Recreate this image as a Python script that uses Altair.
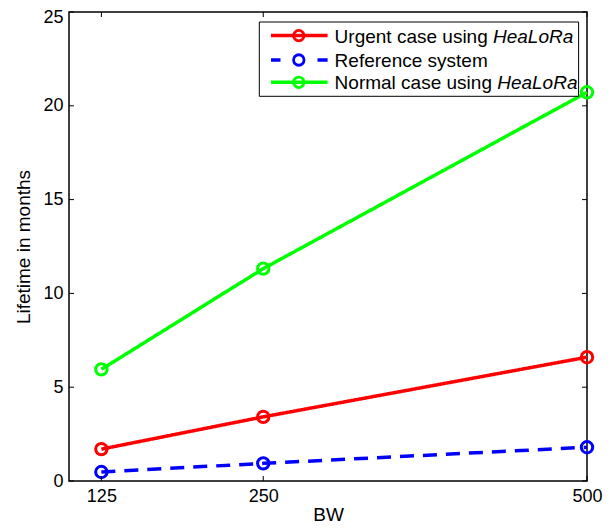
import altair as alt
import pandas as pd

# ---- data ----
bw = [125, 250, 500]
urgent = [1.7, 3.42, 6.6]
reference = [0.48, 0.94, 1.8]
normal = [5.95, 11.32, 20.72]
series_names = ["Urgent", "Reference", "Normal"]
series_colors = ["#ff0000", "#0000ff", "#00ff00"]
x_ticks = [125, 250, 500]
y_ticks = [0, 5, 10, 15, 20, 25]

legend_prefix = ["Urgent case using ", "Reference system", "Normal case using "]
legend_italic = ["HeaLoRa", "", "HeaLoRa"]

rows = []
for name, vals in zip(series_names, [urgent, reference, normal]):
    for b, v in zip(bw, vals):
        rows.append({"BW": b, "Lifetime": v, "Series": name})
df = pd.DataFrame(rows)

W, H = 518, 469
FONT = "Liberation Sans"

xscale = alt.Scale(domain=[100, 500], nice=False, zero=False)
yscale = alt.Scale(domain=[0, 25], nice=False)
cscale = alt.Scale(domain=series_names, range=series_colors)
dscale = alt.Scale(domain=series_names, range=[[1, 0], [14, 9], [1, 0]])

xaxis = alt.Axis(values=x_ticks, title="BW", labelPadding=6, titlePadding=0)
yaxis = alt.Axis(values=y_ticks, title="Lifetime in months", labelPadding=6,
                 titlePadding=9,
                 labelOffset={"condition": {"test": "datum.value == 25", "value": 5},
                              "value": 0})

base = alt.Chart(df)

lines = base.mark_line(strokeWidth=3.5).encode(
    x=alt.X("BW:Q", scale=xscale, axis=xaxis),
    y=alt.Y("Lifetime:Q", scale=yscale, axis=yaxis),
    color=alt.Color("Series:N", scale=cscale, legend=None),
    strokeDash=alt.StrokeDash("Series:N", scale=dscale, legend=None),
    detail="Series:N",
)

points = base.mark_point(filled=False, size=130, strokeWidth=3, opacity=1).encode(
    x=alt.X("BW:Q", scale=xscale, axis=xaxis),
    y=alt.Y("Lifetime:Q", scale=yscale, axis=yaxis),
    color=alt.Color("Series:N", scale=cscale, legend=None),
)

# inward ticks on all four sides
xt = pd.DataFrame({"BW": x_ticks})
yt = pd.DataFrame({"Lifetime": y_ticks})
TL = 5
tick_bottom = alt.Chart(xt).mark_rule(color="black", strokeWidth=1).encode(
    x=alt.X("BW:Q", scale=xscale, axis=xaxis), y=alt.value(H), y2=alt.value(H - TL))
tick_top = alt.Chart(xt).mark_rule(color="black", strokeWidth=1).encode(
    x=alt.X("BW:Q", scale=xscale, axis=xaxis), y=alt.value(0), y2=alt.value(TL))
tick_left = alt.Chart(yt).mark_rule(color="black", strokeWidth=1).encode(
    y=alt.Y("Lifetime:Q", scale=yscale, axis=yaxis), x=alt.value(0), x2=alt.value(TL))
tick_right = alt.Chart(yt).mark_rule(color="black", strokeWidth=1).encode(
    y=alt.Y("Lifetime:Q", scale=yscale, axis=yaxis), x=alt.value(W), x2=alt.value(W - TL))

# custom legend (to allow the italic HeaLoRa)
one = pd.DataFrame({"a": [0]})
lg = alt.Chart(one)
box = lg.mark_rect(fill="white", stroke="black", strokeWidth=1).encode(
    x=alt.value(190.3), x2=alt.value(509.6), y=alt.value(10), y2=alt.value(84.3))

legend_layers = [box]
row_y = [23.6, 48.0, 70.3]
italic_x = [424.0, None, 428.2]
for i in range(3):
    ry = row_y[i]
    col = series_colors[i]
    if series_names[i] == "Reference":
        segs = [(202.0, 211.5), (248.5, 258.6)]
    else:
        segs = [(202.0, 258.6)]
    for (a, b) in segs:
        legend_layers.append(lg.mark_rule(color=col, strokeWidth=3.5).encode(
            x=alt.value(a), x2=alt.value(b), y=alt.value(ry)))
    legend_layers.append(lg.mark_point(filled=False, size=110, strokeWidth=2.8,
                                       color=col, opacity=1).encode(
        x=alt.value(229.8), y=alt.value(ry)))
    legend_layers.append(lg.mark_text(align="left", baseline="middle", fontSize=19,
                                      font=FONT, color="black").encode(
        x=alt.value(265.6), y=alt.value(ry + 1), text=alt.value(legend_prefix[i])))
    if legend_italic[i]:
        legend_layers.append(lg.mark_text(align="left", baseline="middle", fontSize=19,
                                          font=FONT, fontStyle="italic",
                                          color="black").encode(
            x=alt.value(italic_x[i]), y=alt.value(ry + 1),
            text=alt.value(legend_italic[i])))

chart = alt.layer(
    lines, points, tick_bottom, tick_top, tick_left, tick_right, *legend_layers
).properties(
    width=W, height=H,
    autosize=alt.AutoSizeParams(type="none"),
    padding={"left": 61, "top": 4, "right": 17, "bottom": 44},
    background="white",
).configure_view(
    stroke="black", strokeWidth=1.5
).configure_axis(
    grid=False, ticks=False, domain=False, labelFontSize=18, titleFontSize=19,
    labelFont=FONT, titleFont=FONT, labelColor="black", titleColor="black",
    titleFontWeight="normal", labelFlush=False,
)

chart.save("out.html", embed_options={"renderer": "svg", "actions": False})
